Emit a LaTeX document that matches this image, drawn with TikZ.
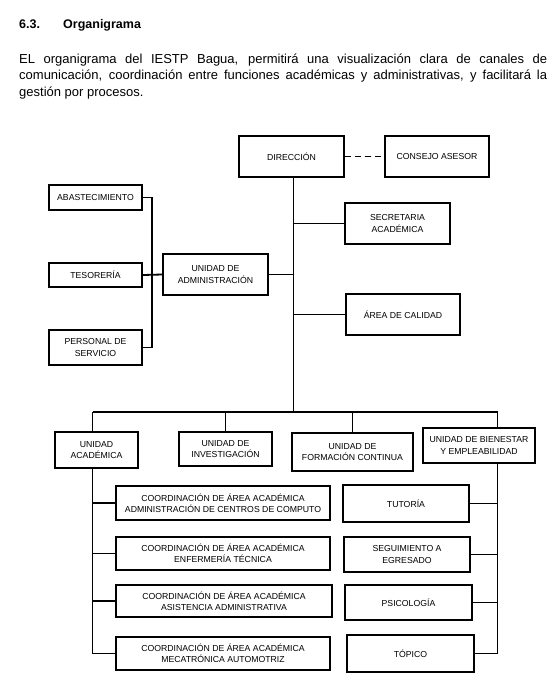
\documentclass[tikz,border=0pt]{standalone}
\usepackage{fontspec}
\setmainfont{Liberation Sans}
\begin{document}
\begin{tikzpicture}[x=1pt,y=-1pt,
  box/.style={draw, line width=1.8pt, inner sep=1pt, align=center,
    font=\fontsize{8.7}{11.3}\selectfont},
  conn/.style={line width=1.8pt},
  para/.style={anchor=base west, inner sep=0pt, font=\fontsize{13}{15}\selectfont}]
\useasboundingbox (0,0) rectangle (557,689);
% header
\node[anchor=base west, inner sep=0pt, font=\fontsize{12.5}{14}\selectfont\bfseries] (hnum) at (19,28) {6.3.};
\node[anchor=base west, inner sep=0pt, font=\fontsize{12.5}{14}\selectfont\bfseries] (htit) at (63,28) {Organigrama};
\node[para] (p1) at (19,63) {\makebox[528pt][s]{EL organigrama del IESTP Bagua, permitirá una visualización clara de canales de}};
\node[para] (p2) at (19,79.5) {\makebox[528pt][s]{comunicación, coordinación entre funciones académicas y administrativas, y facilitará la}};
\node[para] (p3) at (19,96) {gestión por procesos.};
% boxes
\node[box, minimum width=105pt, minimum height=41pt] (dir) at (291.5,156.5) {DIRECCIÓN};
\node[box, minimum width=104pt, minimum height=41pt] (cons) at (437,156.5) {CONSEJO ASESOR};
\node[box, minimum width=105pt, minimum height=41pt] (sec) at (397.5,223.5) {SECRETARIA\\ACADÉMICA};
\node[box, minimum width=114pt, minimum height=41pt] (cal) at (403,314.5) {ÁREA DE CALIDAD};
\node[box, minimum width=93pt, minimum height=25pt] (abas) at (95.5,197.5) {ABASTECIMIENTO};
\node[box, minimum width=93pt, minimum height=24pt] (teso) at (95.5,275) {TESORERÍA};
\node[box, minimum width=93pt, minimum height=35pt] (pers) at (95.5,347.5) {PERSONAL DE\\SERVICIO};
\node[box, minimum width=105pt, minimum height=41pt] (uadm) at (215.5,274.5) {UNIDAD DE\\ADMINISTRACIÓN};
\node[box, minimum width=83pt, minimum height=36pt] (uac) at (96.5,450) {UNIDAD\\ACADÉMICA};
\node[box, minimum width=93pt, minimum height=34pt] (uinv) at (225.5,449) {UNIDAD DE\\INVESTIGACIÓN};
\node[box, minimum width=121pt, minimum height=38pt] (ufc) at (352.5,452) {UNIDAD DE\\FORMACIÓN CONTINUA};
\node[box, minimum width=112pt, minimum height=35pt] (ubie) at (479,445.5) {UNIDAD DE BIENESTAR\\Y EMPLEABILIDAD};
\node[box, minimum width=214pt, minimum height=34pt] (c1) at (223,503) {COORDINACIÓN DE ÁREA ACADÉMICA\\ADMINISTRACIÓN DE CENTROS DE COMPUTO};
\node[box, minimum width=214pt, minimum height=33pt] (c2) at (223,553.5) {COORDINACIÓN DE ÁREA ACADÉMICA\\ENFERMERÍA TÉCNICA};
\node[box, minimum width=216pt, minimum height=32pt] (c3) at (224,601) {COORDINACIÓN DE ÁREA ACADÉMICA\\ASISTENCIA ADMINISTRATIVA};
\node[box, minimum width=214pt, minimum height=33pt] (c4) at (223,653.5) {COORDINACIÓN DE ÁREA ACADÉMICA\\MECATRÓNICA AUTOMOTRIZ};
\node[box, minimum width=126pt, minimum height=37pt] (tut) at (406,503.5) {TUTORÍA};
\node[box, minimum width=126pt, minimum height=35pt] (seg) at (407,554.5) {SEGUIMIENTO A\\EGRESADO};
\node[box, minimum width=127pt, minimum height=35pt] (psi) at (408.5,602.5) {PSICOLOGÍA};
\node[box, minimum width=127pt, minimum height=37pt] (top) at (410.5,653.5) {TÓPICO};
% coordinates
\coordinate (t) at (293.5,412);
\coordinate (l) at (152,0);
\coordinate (bl) at (92.5,412);
\coordinate (br) at (497.5,412);
% connectors
\draw[conn, dashed, dash pattern=on 6pt off 4pt] (dir.east) -- (cons.west);
\draw[conn] (dir.south -| t) -- (t);
\draw[conn] (sec.west) -- (sec.west -| t);
\draw[conn] (cal.west) -- (cal.west -| t);
\draw[conn] (uadm.east) -- (uadm.east -| t);
\draw[conn] (abas.east) -- (abas.east -| l) -- (pers.east -| l) -- (pers.east);
\draw[conn] (teso.east) -- (uadm.west);
\draw[conn] (bl) -- (br);
\draw[conn] (bl) -- (bl |- uac.north);
\draw[conn] (uinv.north) -- (uinv.north |- t);
\draw[conn] (ufc.north) -- (ufc.north |- t);
\draw[conn] (br) -- (br |- ubie.north);
\draw[conn] (bl |- uac.south) -- (bl |- c4.west) -- (c4.west);
\draw[conn] (c1.west) -- (c1.west -| bl);
\draw[conn] (c2.west) -- (c2.west -| bl);
\draw[conn] (c3.west) -- (c3.west -| bl);
\draw[conn] (br |- ubie.south) -- (br |- top.east) -- (top.east);
\draw[conn] (tut.east) -- (tut.east -| br);
\draw[conn] (seg.east) -- (seg.east -| br);
\draw[conn] (psi.east) -- (psi.east -| br);
\end{tikzpicture}
\end{document}
